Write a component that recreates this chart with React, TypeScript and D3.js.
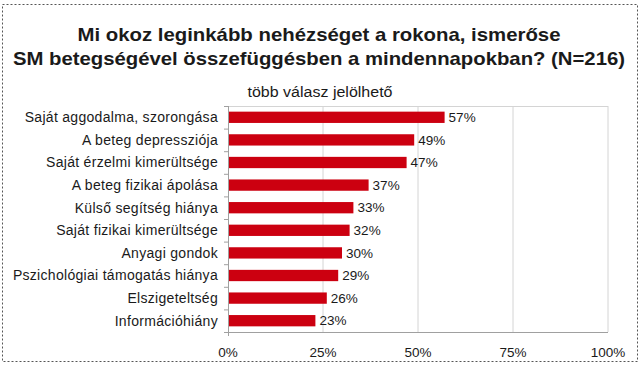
import * as d3 from 'd3';

const WIDTH = 640;
const HEIGHT = 367;
const MARGIN = { top: 106, right: 32, bottom: 35, left: 228 };

const categories = [
  'Saját aggodalma, szorongása',
  'A beteg depressziója',
  'Saját érzelmi kimerültsége',
  'A beteg fizikai ápolása',
  'Külső segítség hiánya',
  'Saját fizikai kimerültsége',
  'Anyagi gondok',
  'Pszichológiai támogatás hiánya',
  'Elszigeteltség',
  'Információhiány',
];
const values = [57, 49, 47, 37, 33, 32, 30, 29, 26, 23];
const xTicks = [0, 25, 50, 75, 100];

const titleLines = [
  'Mi okoz leginkább nehézséget a rokona, ismerőse',
  'SM betegségével összefüggésben a mindennapokban? (N=216)',
];
const subtitle = 'több válasz jelölhető';

const FONT = 'Arial, "Liberation Sans", sans-serif';
const TEXT = '#1a1a1a';

// widths of the title lines as measured on the reference
const titleWidths = [483, 612];

export default function App() {
  const x = d3
    .scaleLinear()
    .domain([0, 100])
    .range([MARGIN.left, WIDTH - MARGIN.right]);
  const y = d3
    .scaleBand<string>()
    .domain(categories)
    .range([MARGIN.top, HEIGHT - MARGIN.bottom])
    .paddingInner(0.5)
    .paddingOuter(0.25);
  const step = y.step();
  const top = MARGIN.top;
  const bottom = HEIGHT - MARGIN.bottom;

  return (
    <svg
      width={WIDTH}
      height={HEIGHT}
      viewBox={`0 0 ${WIDTH} ${HEIGHT}`}
      style={{ position: 'absolute', left: 0, top: 0, background: '#fff' }}
      fontFamily={FONT}
    >
      <rect
        x={2.5}
        y={4.5}
        width={635}
        height={357}
        fill="none"
        stroke="#555"
        strokeWidth={1}
        strokeDasharray="2 2"
      />

      {titleLines.map((t, i) => (
        <text
          key={i}
          x={WIDTH / 2 - 1}
          y={41 + i * 24}
          textAnchor="middle"
          fontSize={18.5}
          fontWeight="bold"
          fill={TEXT}
          textLength={titleWidths[i]}
          lengthAdjust="spacingAndGlyphs"
        >
          {t}
        </text>
      ))}
      <text
        x={WIDTH / 2}
        y={96.5}
        textAnchor="middle"
        fontSize={15.5}
        fill={TEXT}
        textLength={145}
        lengthAdjust="spacingAndGlyphs"
      >
        {subtitle}
      </text>

      {/* grid + plot frame */}
      {xTicks.slice(1).map((t) => (
        <line
          key={t}
          x1={x(t)}
          x2={x(t)}
          y1={top}
          y2={bottom}
          stroke="#d4d4d4"
        />
      ))}
      <line x1={x(0)} x2={x(100)} y1={top + 0.5} y2={top + 0.5} stroke="#d4d4d4" />

      {categories.map((c, i) => (
        <g key={c}>
          <rect
            x={x(0)}
            y={y(c)}
            width={x(values[i]) - x(0)}
            height={y.bandwidth()}
            fill="#cc0010"
          />
          <text
            x={x(values[i]) + 4}
            y={(y(c) ?? 0) + y.bandwidth() / 2}
            dy="0.35em"
            fontSize={13.5}
            fill={TEXT}
          >
            {values[i]}%
          </text>
          <text
            x={218}
            y={(y(c) ?? 0) + y.bandwidth() / 2}
            dy="0.35em"
            textAnchor="end"
            fontSize={14}
            letterSpacing={0.3}
            fill={TEXT}
          >
            {c}
          </text>
        </g>
      ))}

      {/* axes */}
      <line x1={x(0) + 0.5} x2={x(0) + 0.5} y1={top} y2={bottom + 4} stroke="#a0a0a0" />
      <line x1={x(0) - 4} x2={x(100)} y1={bottom + 0.5} y2={bottom + 0.5} stroke="#a0a0a0" />
      {d3.range(categories.length).map((i) => (
        <line
          key={i}
          x1={x(0) - 4}
          x2={x(0)}
          y1={top + i * step + 0.5}
          y2={top + i * step + 0.5}
          stroke="#a0a0a0"
        />
      ))}
      {xTicks.map((t) => (
        <text
          key={t}
          x={x(t)}
          y={357}
          textAnchor="middle"
          fontSize={13.5}
          fill={TEXT}
        >
          {t}%
        </text>
      ))}
    </svg>
  );
}
